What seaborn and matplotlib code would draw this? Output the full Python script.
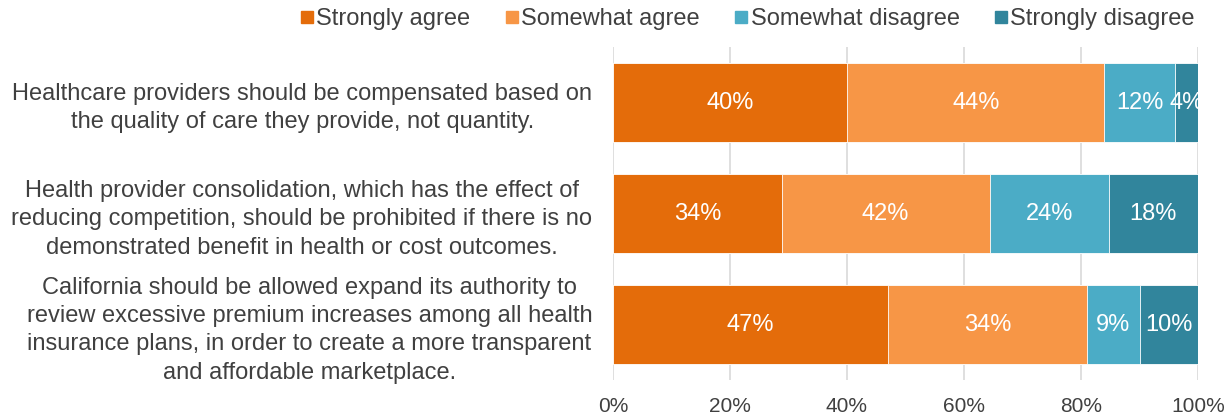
import matplotlib
matplotlib.use("Agg")
import matplotlib.pyplot as plt
from matplotlib.lines import Line2D
import numpy as np
import pandas as pd
import seaborn as sns

statements = [
    "Healthcare providers should be compensated based on\nthe quality of care they provide, not quantity.",
    "Health provider consolidation, which has the effect of\nreducing competition, should be prohibited if there is no\ndemonstrated benefit in health or cost outcomes.",
    "California should be allowed expand its authority to\nreview excessive premium increases among all health\ninsurance plans, in order to create a more transparent\nand affordable marketplace.",
]
responses = ["Strongly agree", "Somewhat agree", "Somewhat disagree", "Strongly disagree"]
strongly_agree = [40, 34, 47]
somewhat_agree = [44, 42, 34]
somewhat_disagree = [12, 24, 9]
strongly_disagree = [4, 18, 10]
colors = ["#E46C0A", "#F79646", "#4BACC6", "#31859C"]
text_color = "#404040"

sns.set_theme(style="white")
plt.rcParams["font.family"] = ["Liberation Sans", "DejaVu Sans"]

values = np.array([strongly_agree, somewhat_agree, somewhat_disagree, strongly_disagree], dtype=float)
shares = values / values.sum(axis=0)  # each bar fills 100%
cum = np.cumsum(shares, axis=0)

fig = plt.figure(figsize=(12.28, 4.15), dpi=100)
ax = fig.add_axes([613 / 1228, 35 / 415, 585 / 1228, 333 / 415])

# stacked bars: draw cumulative totals from the outermost segment inward
for i in reversed(range(len(responses))):
    df = pd.DataFrame({"statement": statements, "value": cum[i]})
    sns.barplot(data=df, x="value", y="statement", color=colors[i],
                orient="h", width=0.71, ax=ax, saturation=1,
                edgecolor="white", linewidth=0.6, zorder=2)

# value labels at segment centres
for i in range(len(responses)):
    for j in range(len(statements)):
        start = cum[i, j] - shares[i, j]
        ax.text(start + shares[i, j] / 2, j, f"{int(values[i, j])}%",
                ha="center", va="center", color="white", fontsize=17, zorder=3)

ax.set_xlim(0, 1)
ax.set_ylim(2.5, -0.5)
ax.set_xticks(np.linspace(0, 1, 6))
ax.set_xticklabels([f"{int(t * 100)}%" for t in np.linspace(0, 1, 6)])
ax.xaxis.grid(True, color="#D9D9D9", linewidth=1.2, zorder=0)
ax.set_axisbelow(True)
for s in ax.spines.values():
    s.set_visible(False)
ax.set_xlabel("")
ax.set_ylabel("")
ax.tick_params(axis="x", length=0, pad=12, labelsize=15, labelcolor=text_color)
ax.tick_params(axis="y", length=0, pad=15, labelsize=17, labelcolor=text_color)
for lbl in ax.get_yticklabels():
    lbl.set_multialignment("center")
    lbl.set_linespacing(1.38)

handles = [Line2D([0], [0], marker="s", linestyle="", markersize=9,
                  markerfacecolor=c, markeredgecolor=c) for c in colors]
fig.legend(handles, responses, loc="upper right", bbox_to_anchor=(1195 / 1228, 1 - 8 / 415),
           ncol=4, frameon=False, fontsize=17, handletextpad=0.0,
           columnspacing=1.35, handlelength=0.8, borderpad=0, borderaxespad=0,
           labelcolor=text_color)

fig.savefig("out.png", dpi=100)
